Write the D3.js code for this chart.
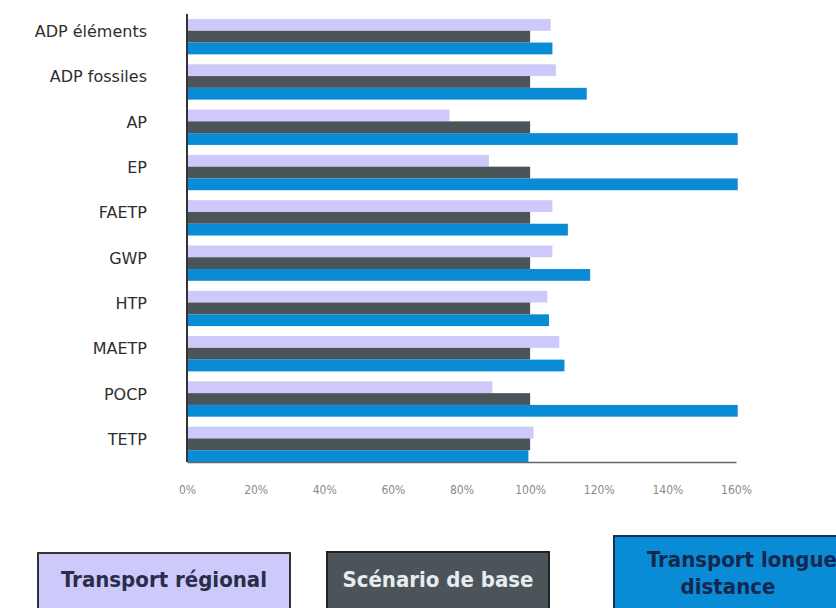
<!DOCTYPE html>
<html>
<head>
<meta charset="utf-8">
<script src="https://cdn.jsdelivr.net/npm/d3@7"></script>
<style>
  body { margin: 0; background: #fff; }
  svg { display: block; }
</style>
</head>
<body>
<div id="chart"></div>
<script>
const width = 836;
const height = 608;

// data (percent of base scenario)
const categories = ['ADP éléments', 'ADP fossiles', 'AP', 'EP', 'FAETP', 'GWP', 'HTP', 'MAETP', 'POCP', 'TETP'];
const seriesNames = ['Transport régional', 'Scénario de base', 'Transport longue distance'];
const regional = [106, 107.5, 76.5, 88, 106.5, 106.5, 105, 108.5, 89, 101];
const base = [100, 100, 100, 100, 100, 100, 100, 100, 100, 100];
const longDistance = [106.5, 116.5, 160.5, 160.5, 111, 117.5, 105.5, 110, 160.5, 99.5];
const xTicks = [0, 20, 40, 60, 80, 100, 120, 140, 160];

const colors = ['#cdc9fa', '#4b5459', '#0a8bd6'];

const rows = categories.map((c, i) => ({
  cat: c,
  vals: [regional[i], base[i], longDistance[i]]
}));

const x = d3.scaleLinear()
  .domain([0, 160])
  .range([187, 736]);

const y = d3.scaleBand()
  .domain(categories)
  .range([19, 462])
  .paddingInner(0.22)
  .paddingOuter(0);

const ySub = d3.scaleBand()
  .domain(d3.range(3))
  .range([0, y.bandwidth()]);

const svg = d3.select('#chart').append('svg')
  .attr('width', width)
  .attr('height', height);

// bars
const groups = svg.append('g').attr('class', 'bars')
  .selectAll('g')
  .data(rows)
  .enter().append('g')
  .attr('transform', d => `translate(0,${y(d.cat)})`);

groups.selectAll('rect')
  .data(d => d.vals)
  .enter().append('rect')
  .attr('x', x(0))
  .attr('y', (d, i) => ySub(i))
  .attr('width', d => x(d) - x(0))
  .attr('height', ySub.bandwidth())
  .attr('fill', (d, i) => colors[i]);

// category labels
svg.append('g').attr('class', 'ylabels')
  .selectAll('text')
  .data(categories)
  .enter().append('text')
  .attr('x', 147)
  .attr('y', d => y(d) + y.bandwidth() / 2 - 4)
  .attr('text-anchor', 'end')
  .attr('dominant-baseline', 'middle')
  .attr('font-family', 'DejaVu Sans, sans-serif')
  .attr('font-size', 16)
  .attr('fill', '#2e2e2e')
  .text(d => d);

// bottom axis
const xAxis = d3.axisBottom(x)
  .tickValues(xTicks)
  .tickSize(0)
  .tickPadding(23)
  .tickFormat(d => d + '%');

const gx = svg.append('g')
  .attr('transform', 'translate(0,462)')
  .call(xAxis);
gx.select('.domain').attr('stroke', '#666').attr('stroke-width', 1.5);
gx.selectAll('text')
  .attr('font-family', 'DejaVu Sans Condensed, sans-serif')
  .attr('font-size', 12)
  .attr('fill', '#8a8a8a');

// left axis line
svg.append('line')
  .attr('x1', x(0)).attr('x2', x(0))
  .attr('y1', 14).attr('y2', 462)
  .attr('stroke', '#333')
  .attr('stroke-width', 2);

// legend boxes
const legend = [
  {x: 38, y: 553, w: 252, h: 70, fill: colors[0], stroke: '#333', text: ['Transport régional'], tc: '#2a2d4a'},
  {x: 327, y: 552, w: 222, h: 70, fill: colors[1], stroke: '#222', text: ['Scénario de base'], tc: '#e8ecef'},
  {x: 614, y: 536, w: 250, h: 90, fill: colors[2], stroke: '#1a2f55', text: ['Transport longue', 'distance'], tc: '#14284f'}
];

const lg = svg.append('g').attr('class', 'legend')
  .selectAll('g')
  .data(legend)
  .enter().append('g');

lg.append('rect')
  .attr('x', d => d.x)
  .attr('y', d => d.y)
  .attr('width', d => d.w)
  .attr('height', d => d.h)
  .attr('fill', d => d.fill)
  .attr('stroke', d => d.stroke)
  .attr('stroke-width', 2);

lg.each(function(d) {
  const g = d3.select(this);
  const multi = d.text.length > 1;
  d.text.forEach((t, i) => {
    g.append('text')
      .attr('x', multi ? (i === 0 ? 742 : 728) : d.x + d.w / 2)
      .attr('y', multi ? 567 + i * 27 : 587)
      .attr('text-anchor', 'middle')
      .attr('font-family', 'DejaVu Sans Condensed, DejaVu Sans, sans-serif')
      .attr('font-weight', 'bold')
      .attr('font-size', 22)
      .attr('fill', d.tc)
      .text(t);
  });
});
</script>
</body>
</html>
